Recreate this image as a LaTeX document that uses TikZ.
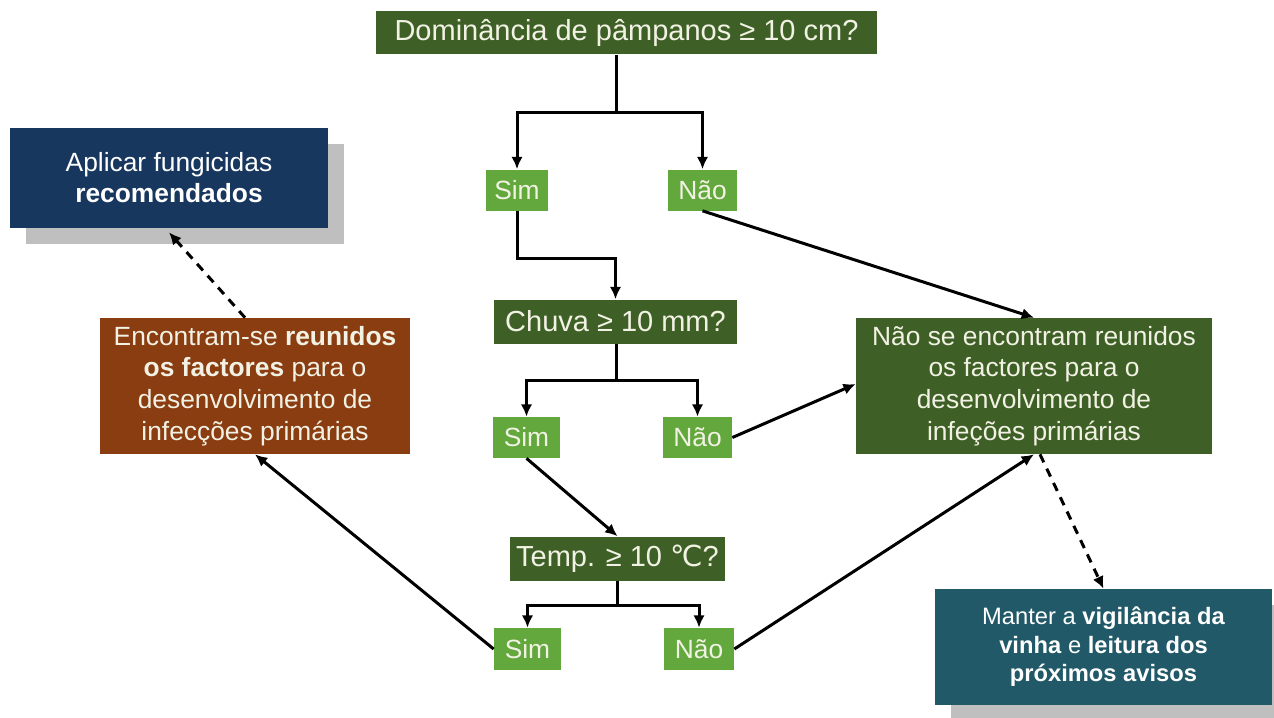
\documentclass[tikz,border=0pt]{standalone}
\usepackage{fontspec}
\setmainfont{Liberation Sans}
\newfontfamily\symfont{DejaVu Sans}
\usetikzlibrary{shadows,arrows.meta}

\definecolor{qgreen}{RGB}{62,96,38}
\definecolor{agreen}{RGB}{98,168,60}
\definecolor{rbrown}{RGB}{139,61,18}
\definecolor{rnavy}{RGB}{23,55,94}
\definecolor{rteal}{RGB}{33,89,104}
\definecolor{rshadow}{RGB}{191,191,191}
\definecolor{softwhite}{RGB}{242,242,228}

\tikzset{
	question/.style={fill=qgreen, text=softwhite, font=\fontsize{16.5}{20}\selectfont, inner sep=0pt, minimum height=0.88cm},
	answer/.style={fill=agreen, text=softwhite, font=\fontsize{15}{18}\selectfont, inner sep=0pt, minimum height=0.82cm},
	result/.style={text=softwhite, font=\fontsize{15}{18}\selectfont, inner sep=0pt, align=center, minimum height=2.72cm},
	advice/.style={text=white, inner sep=0pt, align=center, general shadow={fill=rshadow, shadow xshift=0.32cm, shadow yshift=-0.32cm}},
	link/.style={line width=0.6mm},
	flow/.style={link, -{Latex[length=7pt, width=6.5pt]}},
	hint/.style={flow, dash pattern=on 5pt off 4pt},
}

\begin{document}
\begin{tikzpicture}[x=0.02cm, y=-0.02cm]
		%%%%% START %%%%%
		
		\fill[white] (0, 0) rectangle (1274, 717);
		\path[use as bounding box] (0, 0) rectangle (1274, 717);
		\clip (0, 0) rectangle (1274, 717);
		
		\node[question, minimum width=10.02cm] (top) at (626.5, 32.5) {Dominância de pâmpanos ≥ 10 cm?};
		\node[answer, minimum width=1.24cm] (sim1) at (517, 190) {Sim};
		\node[answer, minimum width=1.38cm] (nao1) at (702.5, 190) {Não};
		
		\node[question, minimum width=4.86cm] (chuva) at (615.5, 321.5) {Chuva ≥ 10 mm?};
		\node[answer, minimum width=1.34cm] (sim2) at (526.5, 437.5) {Sim};
		\node[answer, minimum width=1.38cm] (nao2) at (697.5, 437.5) {Não};
		
		\node[question, minimum width=4.3cm] (temp) at (617.5, 558.5) {Temp. ≥ 10 {\symfont ℃}?};
		\node[answer, minimum width=1.34cm, minimum height=0.84cm] (sim3) at (527.5, 649) {Sim};
		\node[answer, minimum width=1.4cm, minimum height=0.84cm] (nao3) at (699, 649) {Não};
		
		\node[result, fill=rbrown, minimum width=6.2cm] (reunidos) at (255, 386)
			{Encontram-se \textbf{reunidos}\\\textbf{os factores} para o\\desenvolvimento de\\infecções primárias};
		\node[result, fill=qgreen, minimum width=7.12cm] (naoreunidos) at (1034, 386)
			{Não se encontram reunidos\\os factores para o\\desenvolvimento de\\infeções primárias};
		
		\node[advice, fill=rnavy, minimum width=6.36cm, minimum height=2cm, font=\fontsize{15}{17.6}\selectfont] (aplicar) at (169, 178)
			{Aplicar fungicidas\\\textbf{recomendados}};
		\node[advice, fill=rteal, minimum width=6.74cm, minimum height=2.32cm, font=\fontsize{13.5}{16.2}\selectfont] (manter) at (1103.5, 647)
			{Manter a \textbf{vigilância da}\\\textbf{vinha} e \textbf{leitura dos}\\\textbf{próximos avisos}};
		
		% splits under the questions
		\coordinate (split1) at (616, 112);
		\coordinate (split2) at (616, 380);
		\coordinate (split3) at (617, 605);
		
		\draw[link] (split1 |- top.south) -- (split1);
		\draw[flow] (split1) -| (sim1);
		\draw[flow] (split1) -| (nao1);
		
		\draw[flow] (sim1.south) -- ++(0, 48) -| (chuva.north);
		
		\draw[link] (split2 |- chuva.south) -- (split2);
		\draw[flow] (split2) -| (sim2);
		\draw[flow] (split2) -| (nao2);
		
		\draw[flow] (sim2.south) -- (temp.north);
		
		\draw[link] (split3 |- temp.south) -- (split3);
		\draw[flow] (split3) -| (sim3);
		\draw[flow] (split3) -| (nao3);
		
		\draw[flow] (sim3.west) -- (reunidos.south);
		\draw[flow] (nao1.south) -- (naoreunidos.north);
		\draw[flow] (nao2.east) -- ([yshift=0.04cm]naoreunidos.west);
		\draw[flow] (nao3.east) -- (naoreunidos.south);
		
		\draw[hint] ([xshift=-0.2cm]reunidos.north) -- ([yshift=-0.08cm]aplicar.south);
		\draw[hint] ([xshift=0.12cm]naoreunidos.south) -- (manter.north);
		
		%%%%% END %%%%%
	\end{tikzpicture}
\end{document}
